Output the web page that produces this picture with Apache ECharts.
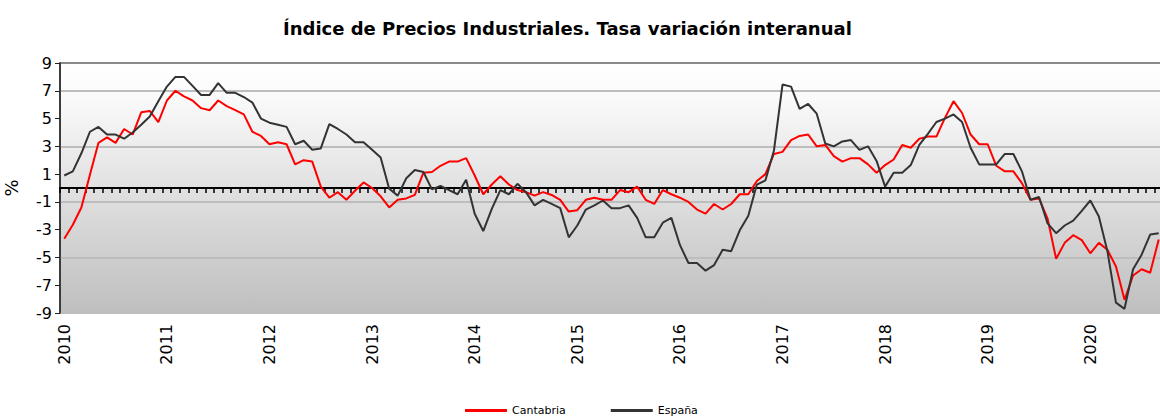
<!DOCTYPE html>
<html>
<head>
<meta charset="utf-8">
<script src="https://cdn.jsdelivr.net/npm/echarts@6/dist/echarts.min.js"></script>
<style>
html, body { margin: 0; padding: 0; background: #fff; }
#chart { width: 1160px; height: 419px; }
</style>
</head>
<body>
<div id="chart"></div>
<script>
// datos mensuales ene-2010 .. sep-2020, tasa interanual (%)
var years = ['2010', '2011', '2012', '2013', '2014', '2015', '2016', '2017', '2018', '2019', '2020'];
var yTicks = [-9, -7, -5, -3, -1, 1, 3, 5, 7, 9];

var cantabria = [
  -3.65, -2.65, -1.4, 0.95, 3.25, 3.65, 3.25, 4.25, 3.85, 5.45, 5.55, 4.75,
  6.3, 7.0, 6.6, 6.3, 5.75, 5.6, 6.3, 5.9, 5.6, 5.3, 4.05, 3.75,
  3.15, 3.3, 3.15, 1.7, 2.0, 1.9, 0.1, -0.7, -0.3, -0.85, -0.2, 0.4,
  0.0, -0.6, -1.4, -0.85, -0.75, -0.5, 1.1, 1.15, 1.6, 1.9, 1.9, 2.15,
  0.9, -0.45, 0.25, 0.85, 0.25, -0.15, -0.3, -0.55, -0.3, -0.5, -0.85, -1.7,
  -1.6, -0.85, -0.7, -0.85, -0.85, -0.15, -0.3, 0.1, -0.85, -1.15, -0.15, -0.45,
  -0.7, -1.0, -1.55, -1.85, -1.15, -1.55, -1.15, -0.45, -0.45, 0.5, 1.0, 2.45,
  2.6, 3.45, 3.75, 3.85, 3.0, 3.1, 2.3, 1.9, 2.15, 2.15, 1.7, 1.1,
  1.65, 2.05, 3.1, 2.9, 3.55, 3.7, 3.7, 5.05, 6.25, 5.4, 3.85, 3.15,
  3.15, 1.6, 1.2, 1.2, 0.35, -0.85, -0.75, -2.2, -5.1, -3.95, -3.4, -3.75,
  -4.7, -3.95, -4.45, -5.65, -8.05, -6.3, -5.85, -6.1, -3.7
];

var espana = [
  0.9, 1.2, 2.5, 4.05, 4.4, 3.85, 3.85, 3.55, 4.0, 4.55, 5.15, 6.25,
  7.3, 8.0, 8.0, 7.35, 6.7, 6.7, 7.55, 6.85, 6.85, 6.55, 6.15, 5.0,
  4.7, 4.55, 4.4, 3.15, 3.4, 2.75, 2.85, 4.6, 4.25, 3.85, 3.3, 3.3,
  2.75, 2.2, -0.05, -0.55, 0.7, 1.3, 1.15, -0.1, 0.15, -0.15, -0.45, 0.6,
  -1.85, -3.1, -1.5, -0.15, -0.45, 0.3, -0.3, -1.25, -0.85, -1.15, -1.45, -3.55,
  -2.7, -1.55, -1.25, -0.9, -1.45, -1.45, -1.25, -2.15, -3.55, -3.55, -2.5, -2.15,
  -4.1, -5.4, -5.4, -5.95, -5.55, -4.45, -4.55, -3.05, -2.0, 0.25, 0.55, 2.7,
  7.45, 7.3, 5.7, 6.05, 5.35, 3.2, 3.0, 3.35, 3.45, 2.75, 3.0, 1.95,
  0.1, 1.1, 1.1, 1.65, 3.1, 3.9, 4.75, 5.0, 5.3, 4.75, 2.9, 1.7,
  1.7, 1.7, 2.45, 2.45, 1.2, -0.85, -0.65, -2.55, -3.25, -2.7, -2.35, -1.65,
  -0.9, -2.05, -4.55, -8.25, -8.7, -5.85, -4.8, -3.35, -3.25
];

var meses = [];
years.forEach(function (y) {
  for (var m = 1; m <= 12; m++) meses.push(y + '-' + (m < 10 ? '0' + m : m));
});
meses = meses.slice(0, cantabria.length);

// svg: con canvas no giraba las etiquetas
var myChart = echarts.init(document.getElementById('chart'), null, { renderer: 'svg' });

var option = {
  animation: false,
  backgroundColor: '#fff',
  textStyle: { fontFamily: 'DejaVu Sans' },
  title: {
    text: 'Índice de Precios Industriales. Tasa variación interanual',
    left: 278,
    top: 14,
    textStyle: { fontFamily: 'DejaVu Sans', fontWeight: 'bold', fontSize: 18, color: '#000' }
  },
  legend: {
    left: 465,
    top: 405,
    padding: 0,
    itemGap: 45,
    itemWidth: 42,
    itemHeight: 3,
    icon: 'rect',
    textStyle: { fontFamily: 'DejaVu Sans', fontSize: 11, color: '#000' },
    data: ['Cantabria', 'España']
  },
  grid: {
    left: 60,
    right: -3,
    top: 63,
    bottom: 106,
    outerBoundsMode: 'none',
    show: true,
    borderColor: '#8a8a8a',
    borderWidth: 2,
    backgroundColor: new echarts.graphic.LinearGradient(0, 0, 0, 1, [
      { offset: 0, color: '#ffffff' },
      { offset: 0.12, color: '#fbfbfb' },
      { offset: 1, color: '#bfbfbf' }
    ])
  },
  xAxis: [
    {
      type: 'category',
      data: meses,
      position: 'bottom',
      axisLine: { show: false, onZero: false },
      axisTick: { show: false },
      axisLabel: {
        interval: 11,
        rotate: 90,
        margin: 11,
        fontSize: 16,
        color: '#000',
        formatter: function (v) { return v.substr(0, 4); }
      },
      splitLine: { show: false }
    },
    {
      type: 'category',
      data: meses,
      position: 'bottom',
      axisLine: { show: true, onZero: true, lineStyle: { color: '#000', width: 2 } },
      axisTick: { show: true, interval: 0, length: 5, lineStyle: { color: '#000', width: 1.5 } },
      axisLabel: { show: false },
      splitLine: { show: false }
    }
  ],
  yAxis: {
    type: 'value',
    min: -9,
    max: 9,
    interval: 1,
    name: '%',
    nameLocation: 'middle',
    nameGap: 40,
    nameRotate: 90,
    nameTextStyle: { fontSize: 18, color: '#000', fontFamily: 'DejaVu Sans' },
    axisLine: { show: true, lineStyle: { color: '#222', width: 1.5 } },
    axisTick: { show: true, length: 5, customValues: yTicks, lineStyle: { color: '#222' } },
    axisLabel: { customValues: yTicks, fontSize: 16, color: '#000', margin: 8 },
    splitLine: { show: true, lineStyle: { color: ['#bdbdbd', 'transparent'], width: 2 } }
  },
  series: [
    {
      name: 'Cantabria',
      type: 'line',
      data: cantabria,
      symbol: 'none',
      lineStyle: { color: '#ff0000', width: 2 },
      itemStyle: { color: '#ff0000' }
    },
    {
      name: 'España',
      type: 'line',
      data: espana,
      symbol: 'none',
      lineStyle: { color: '#333333', width: 2 },
      itemStyle: { color: '#333333' }
    }
  ]
};

myChart.setOption(option);
</script>
</body>
</html>
